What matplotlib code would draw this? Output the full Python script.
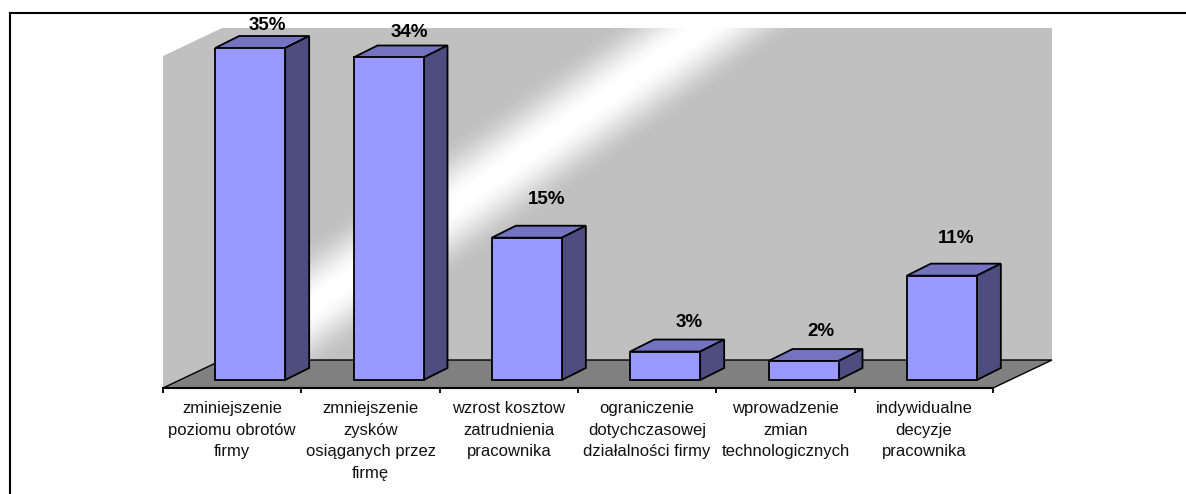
import matplotlib
matplotlib.use('Agg')
import matplotlib.pyplot as plt
import numpy as np
from matplotlib.lines import Line2D
from matplotlib.patches import Polygon

plt.rcParams['font.family'] = ['Liberation Sans', 'DejaVu Sans']

# Data
categories = [
    'zminiejszenie\npoziomu obrotów\nfirmy',
    'zmniejszenie\nzysków\nosiąganych przez\nfirmę',
    'wzrost kosztow\nzatrudnienia\npracownika',
    'ograniczenie\ndotychczasowej\ndziałalności firmy',
    'wprowadzenie\nzmian\ntechnologicznych',
    'indywidualne\ndecyzje\npracownika',
]
values = [35, 34, 15, 3, 2, 11]

# Hand placed data labels, pixels from the top front edge centre of each bar
label_dx = [17, 21, 20, 24, 17, 14]
label_dy = [23, 25, 38, 29, 30, 37]

W, H = 1186, 494
fig = plt.figure(figsize=(W / 100, H / 100), dpi=100)

# Axes spans the front plane of the floor
left, right, bottom, top = 163, 993, 388, 48
ax = fig.add_axes([left / W, 1 - bottom / H, (right - left) / W, (bottom - top) / H])
px_x = (right - left) / len(values)
px_y = (380 - top) / max(values)
ax.set_xlim(0, len(values))
ax.set_ylim(-8 / px_y, max(values))

wall_dx, wall_dy = 59 / px_x, 28 / px_y
bar_dx, bar_dy = 24 / px_x, 12 / px_y
y0 = -8 / px_y
y1 = 35 - 0.85

# Side wall, back wall with the diagonal light band, floor
n = len(values)
ax.add_patch(Polygon([(0, y0), (0, y1), (wall_dx, y1 + wall_dy), (wall_dx, y0 + wall_dy)],
                     fc='#C0C0C0', ec='none', clip_on=False, zorder=1))
gx, gy = np.meshgrid(np.linspace(222, 1052, 500), np.linspace(27, 360, 250))
dist = np.abs(gy - (292 - 0.713 * (gx - 331))) / 70
band = 1 - np.clip(dist, 0, 1)
band = np.clip(band * 1.05, 0, 1)
band = band * band * (3 - 2 * band)
shade = 192 / 255 + (1 - 192 / 255) * band
ax.imshow(shade, cmap='gray', vmin=0, vmax=1, aspect='auto', interpolation='bilinear',
          extent=(wall_dx, n + wall_dx, y0 + wall_dy, y1 + wall_dy), clip_on=False, zorder=1)
ax.set_xlim(0, n)
ax.set_ylim(y0, 35)
ax.add_patch(Polygon([(0, y0), (n, y0), (n + wall_dx, y0 + wall_dy), (wall_dx, y0 + wall_dy)],
                     fc='#808080', ec='black', lw=1, clip_on=False, zorder=2))

# Bars
x = np.arange(n) + 0.5 + 18 / px_x
width = 70 / px_x
ax.bar(x, values, width=width, color='#9999FF', edgecolor='black', linewidth=1.3, zorder=4)
for xi, v, dx, dy in zip(x, values, label_dx, label_dy):
    x0, x1 = xi - width / 2, xi + width / 2
    ax.add_patch(Polygon([(x0, v), (x1, v), (x1 + bar_dx, v + bar_dy), (x0 + bar_dx, v + bar_dy)],
                         fc='#7373BF', ec='black', lw=1.3, clip_on=False, zorder=3))
    ax.add_patch(Polygon([(x1, 0), (x1, v), (x1 + bar_dx, v + bar_dy), (x1 + bar_dx, bar_dy)],
                         fc='#4D4D80', ec='black', lw=1.3, clip_on=False, zorder=3))
    ax.annotate(f'{v}%', (xi, v), xytext=(dx * 0.72, dy * 0.72), textcoords='offset points',
                ha='center', va='center', fontsize=13.5, fontweight='bold', color='black',
                annotation_clip=False, zorder=5)

# Axis
for s in ['left', 'right', 'top']:
    ax.spines[s].set_visible(False)
ax.spines['bottom'].set_linewidth(1.5)
ax.spines['bottom'].set_zorder(3)
ax.set_yticks([])
ax.set_xticks(np.arange(n + 1))
ax.set_xticklabels([])
ax.tick_params(axis='x', which='major', length=3.6, width=1.3, color='black')
ax.set_xticks(np.arange(n) + 0.5, minor=True)
ax.set_xticklabels(categories, minor=True, fontsize=12, linespacing=1.55, color='#111111')
ax.tick_params(axis='x', which='minor', length=0, pad=9.5)

# Outer frame, only top and left are inside the picture
fig.add_artist(Line2D([10 / W, 10 / W], [0, 1 - 13 / H], color='black', lw=1.5))
fig.add_artist(Line2D([10 / W, 1], [1 - 13 / H, 1 - 13 / H], color='black', lw=1.5))

plt.savefig('out.png', dpi=100)
